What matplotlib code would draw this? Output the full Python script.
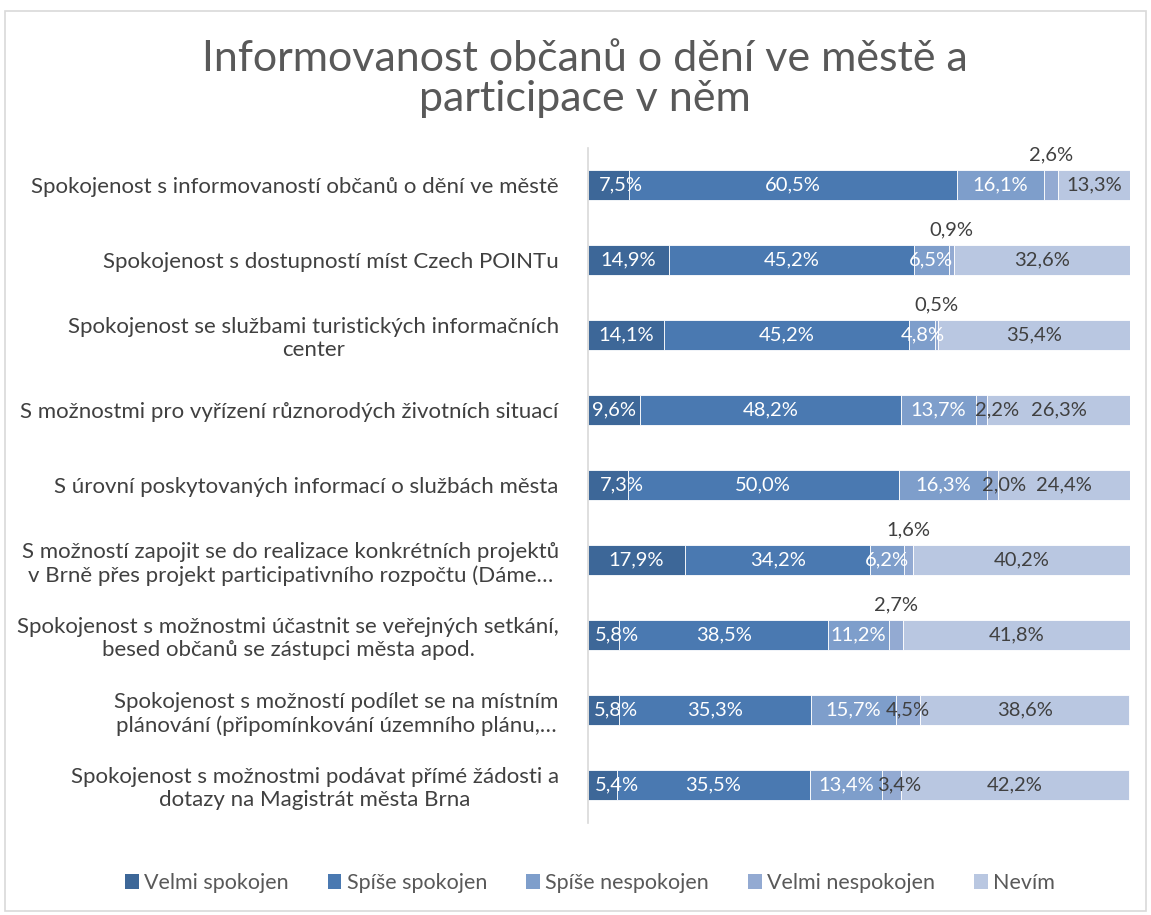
import matplotlib
matplotlib.use("Agg")
import matplotlib.pyplot as plt
from matplotlib.patches import Rectangle, Patch
import numpy as np

plt.rcParams['font.family'] = ['Lato', 'DejaVu Sans']

title = "Informovanost občanů o dění ve městě a\nparticipace v něm"

categories = [
    "Spokojenost s informovaností občanů o dění ve městě",
    "Spokojenost s dostupností míst Czech POINTu",
    "Spokojenost se službami turistických informačních\ncenter",
    "S možnostmi pro vyřízení různorodých životních situací",
    "S úrovní poskytovaných informací o službách města",
    "S možností zapojit se do realizace konkrétních projektů\nv Brně přes projekt participativního rozpočtu (Dáme…",
    "Spokojenost s možnostmi účastnit se veřejných setkání,\nbesed občanů se zástupci města apod.",
    "Spokojenost s možností podílet se na místním\nplánování (připomínkování územního plánu,…",
    "Spokojenost s možnostmi podávat přímé žádosti a\ndotazy na Magistrát města Brna",
]

series_names = ["Velmi spokojen", "Spíše spokojen", "Spíše nespokojen", "Velmi nespokojen", "Nevím"]

velmi_spokojen   = [7.5, 14.9, 14.1, 9.6, 7.3, 17.9, 5.8, 5.8, 5.4]
spise_spokojen   = [60.5, 45.2, 45.2, 48.2, 50.0, 34.2, 38.5, 35.3, 35.5]
spise_nespokojen = [16.1, 6.5, 4.8, 13.7, 16.3, 6.2, 11.2, 15.7, 13.4]
velmi_nespokojen = [2.6, 0.9, 0.5, 2.2, 2.0, 1.6, 2.7, 4.5, 3.4]
nevim            = [13.3, 32.6, 35.4, 26.3, 24.4, 40.2, 41.8, 38.6, 42.2]

# rows whose "Velmi nespokojen" label sits above the bar
label_above = [True, True, True, False, False, True, True, False, False]

# horizontal label nudges (row, series) -> shift in axis percent units
label_nudge = {(0, 0): 2.4, (4, 0): 2.6, (6, 0): 2.4, (7, 0): 2.2, (8, 0): 2.6,
               (3, 3): 2.8, (4, 3): 2.2, (8, 3): 1.5}

colors = ["#3d6798", "#4a79b1", "#7e9ecb", "#93aad2", "#b9c7e1"]
label_colors = ["white", "white", "white", "#404040", "#404040"]

data = [velmi_spokojen, spise_spokojen, spise_nespokojen, velmi_nespokojen, nevim]

fig = plt.figure(figsize=(11.51, 9.15), dpi=100)
fig.patches.append(Rectangle((0.004, 0.004), 0.992, 0.984, transform=fig.transFigure,
                             fill=False, edgecolor="#d9d9d9", linewidth=1.2))

ax = fig.add_axes([588/1151, (915-822.5)/915, 542/1151, 675/915])
y = np.arange(len(categories))
left = np.zeros(len(categories))
for i, (vals, name) in enumerate(zip(data, series_names)):
    vals = np.array(vals)
    ax.barh(y, vals, left=left, height=0.4, color=colors[i], edgecolor="white",
            linewidth=0.6, label=name)
    for j, v in enumerate(vals):
        cx = left[j] + v / 2 + label_nudge.get((j, i), 0.0)
        txt = f"{v:.1f}%".replace(".", ",")
        if i == 3 and label_above[j]:
            ax.text(cx, y[j] - 0.4, txt, ha="center", va="center", fontsize=14.5, color="#404040")
        else:
            ax.text(cx, y[j], txt, ha="center", va="center", fontsize=14.5, color=label_colors[i])
    left += vals

ax.set_xlim(0, 100)
ax.set_ylim(len(categories) - 0.5, -0.5)
ax.set_yticks(y)
ax.set_yticklabels(categories, fontsize=16, color="#404040", multialignment="center")
ax.tick_params(axis="y", length=0, pad=21)
ax.set_xticks([])
for s in ["top", "right", "bottom"]:
    ax.spines[s].set_visible(False)
ax.spines["left"].set_color("#d9d9d9")
ax.spines["left"].set_linewidth(1.2)

fig.text(585/1151, 1 - 79/915, title, ha="center", va="center", fontsize=31,
         color="#595959", linespacing=1.08)

handles = [Patch(facecolor=c, edgecolor="none") for c in colors]
fig.legend(handles, series_names, loc="center", bbox_to_anchor=(590/1151, 1 - 883/915),
           ncol=5, frameon=False, fontsize=15.5, handlelength=0.65, handleheight=0.65,
           handletextpad=0.25, columnspacing=1.8, labelcolor="#595959")

fig.savefig("out.png", dpi=100)
